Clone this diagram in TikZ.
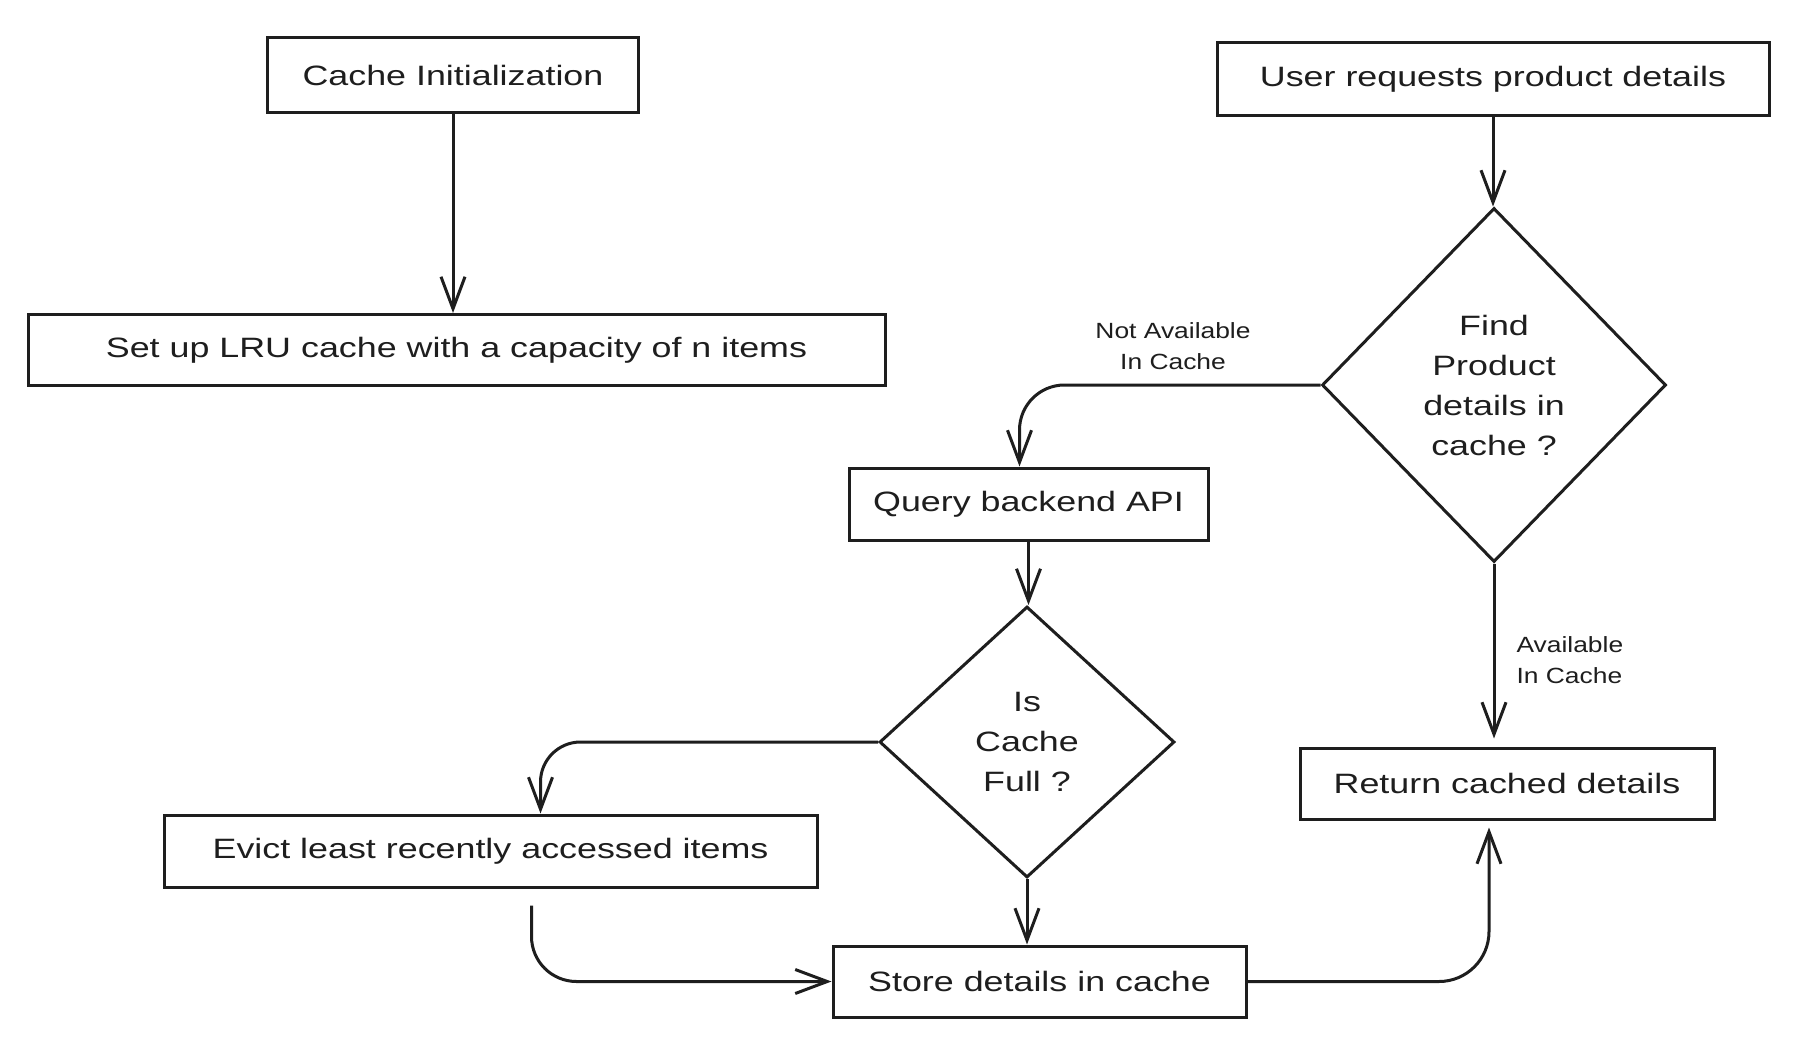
\documentclass[tikz,border=0pt]{standalone}
\usepackage{fontspec}
\setmainfont{Liberation Sans}[FakeStretch=1.28]
\newfontfamily\lblfont{Liberation Sans}[FakeStretch=1.2]
\usetikzlibrary{shapes.geometric,arrows.meta,calc}
\definecolor{ink}{HTML}{1E1E1E}
\begin{document}
\begin{tikzpicture}[x=1pt,y=-1pt,
  box/.style={draw=ink, line width=3pt, rectangle, inner sep=0pt, text=ink, font=\fontsize{28}{40}\selectfont},
  dec/.style={draw=ink, line width=3pt, diamond, inner sep=0pt, text=ink, align=center, font=\fontsize{28}{40}\selectfont},
  conn/.style={draw=ink, line width=3pt, -{Straight Barb[length=32pt,width=24pt]}},
  lbl/.style={text=ink, font=\lblfont\fontsize{22}{31.5}\selectfont}
]
\fill[white] (0,0) rectangle (1819,1057);
\useasboundingbox (0,0) rectangle (1819,1057);

\node[box, minimum width=371pt, minimum height=74pt] (init) at (453,75) {Cache Initialization};
\node[box, minimum width=857pt, minimum height=71pt] (lru) at (456.5,350) {Set up LRU cache with a capacity of n items};
\node[box, minimum width=552pt, minimum height=72pt] (user) at (1493,79) {User requests product details};
\node[dec, minimum width=344pt, minimum height=354pt] (find) at (1494,385) {Find\\Product\\details in\\cache ?};
\node[box, minimum width=359pt, minimum height=72pt] (query) at (1028.5,504) {Query backend API};
\node[dec, minimum width=295pt, minimum height=271pt] (full) at (1027,742) {Is\\Cache\\Full ?};
\node[box, minimum width=653pt, minimum height=72pt] (evict) at (490.5,851) {Evict least recently accessed items};
\node[box, minimum width=413pt, minimum height=71pt] (store) at (1039.5,981.5) {Store details in cache};
\node[box, minimum width=414pt, minimum height=71pt] (ret) at (1507,783.5) {Return cached details};

\node[lbl, align=center] (na) at (1173,346) {Not Available\\In Cache};
\node[lbl, align=left, anchor=west] (av) at (1513,660) {Available\\In Cache};

\coordinate (qin) at ($(query.north)+(-9,0)$);
\coordinate (ein) at ($(evict.north)+(50,0)$);
\coordinate (eout) at ($(evict.south)+(41,17)$);
\coordinate (rin) at ($(ret.south)+(-18,7)$);

\draw[conn] (init.south) -- (init.south |- lru.north);
\draw[conn] (user.south) -- (user.south |- find.north);
\draw[conn, rounded corners=45pt] (find.west) -- (qin |- find.west) -- (qin);
\draw[conn] (query.south) -- (query.south |- full.north);
\draw[conn, rounded corners=40pt] (full.west) -- (ein |- full.west) -- (ein);
\draw[conn, rounded corners=45pt] (eout) -- (eout |- store.west) -- (store.west);
\draw[conn] (full.south) -- (full.south |- store.north);
\draw[conn, rounded corners=50pt] (store.east) -- (rin |- store.east) -- (rin);
\draw[conn] (find.south) -- ($(find.south |- ret.north)+(0,-8)$);
\end{tikzpicture}
\end{document}
